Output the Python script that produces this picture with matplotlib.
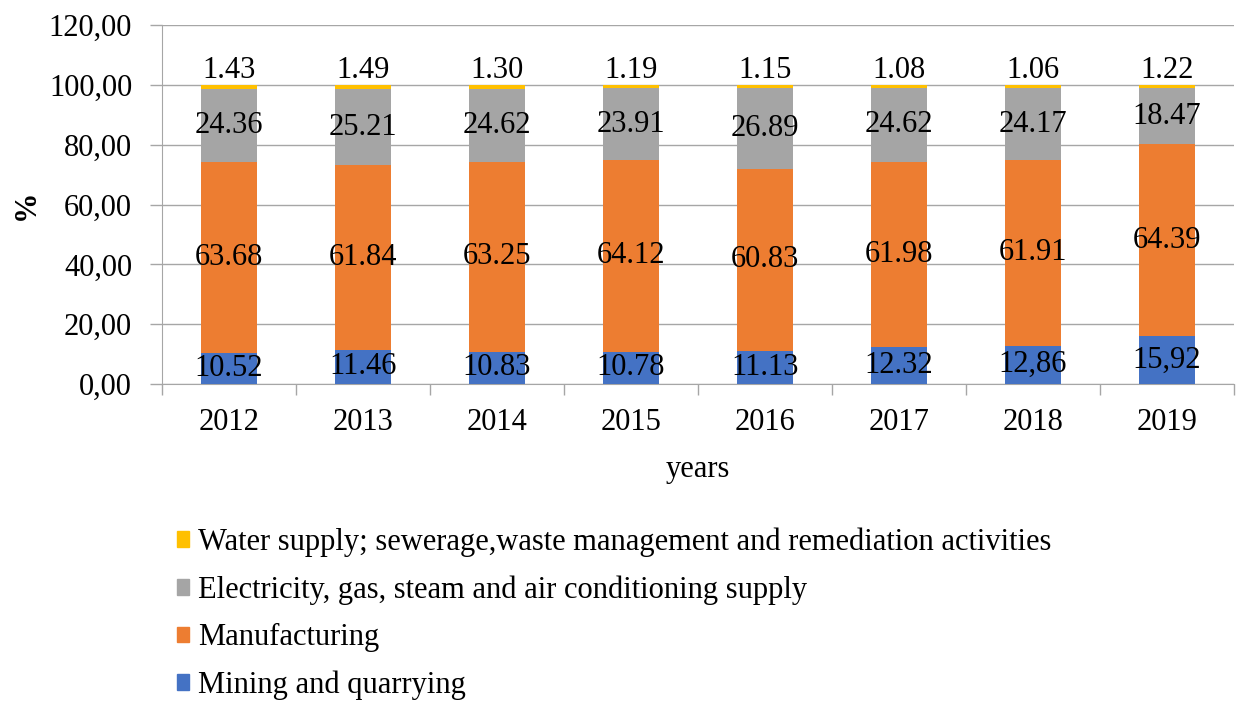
import numpy as np
import matplotlib
matplotlib.use('Agg')
import matplotlib.pyplot as plt
from matplotlib.patches import Patch

years = ['2012', '2013', '2014', '2015', '2016', '2017', '2018', '2019']
mining = [10.52, 11.46, 10.83, 10.78, 11.13, 12.32, 12.86, 15.92]
manufacturing = [63.68, 61.84, 63.25, 64.12, 60.83, 61.98, 61.91, 64.39]
electricity = [24.36, 25.21, 24.62, 23.91, 26.89, 24.62, 24.17, 18.47]
water = [1.43, 1.49, 1.30, 1.19, 1.15, 1.08, 1.06, 1.22]

mining_lbl = ['10.52', '11.46', '10.83', '10.78', '11.13', '12.32', '12,86', '15,92']
manuf_lbl = ['63.68', '61.84', '63.25', '64.12', '60.83', '61.98', '61.91', '64.39']
elec_lbl = ['24.36', '25.21', '24.62', '23.91', '26.89', '24.62', '24.17', '18.47']
water_lbl = ['1.43', '1.49', '1.30', '1.19', '1.15', '1.08', '1.06', '1.22']

names = ['Mining and quarrying', 'Manufacturing',
         'Electricity, gas, steam and air conditioning supply',
         'Water supply; sewerage,waste management and remediation activities']
colors = ['#4472C4', '#ED7D31', '#A5A5A5', '#FFC000']

plt.rcParams['font.family'] = 'serif'
plt.rcParams['font.serif'] = ['Liberation Serif', 'DejaVu Serif']
FS = 22

fig = plt.figure(figsize=(12.36, 7.04), dpi=100)
ax = fig.add_axes([162 / 1236, 1 - 384 / 704, 1072 / 1236, 359 / 704])

x = np.arange(len(years))
w = 0.42
bottom = np.zeros(len(years))
series = [mining, manufacturing, electricity, water]
labels = [mining_lbl, manuf_lbl, elec_lbl, water_lbl]
for vals, lbls, c in zip(series, labels, colors):
    bars = ax.bar(x, vals, w, bottom=bottom, color=c, zorder=3)
    if lbls is water_lbl:
        ax.bar_label(bars, labels=lbls, label_type='edge', padding=0,
                     fontsize=FS, color='black')
    else:
        ax.bar_label(bars, labels=lbls, label_type='center',
                     fontsize=FS, color='black')
    bottom += np.array(vals)

ax.set_xlim(-0.5, len(years) - 0.5)
ax.set_ylim(0, 120)
ax.set_yticks(np.arange(0, 121, 20))
ax.set_yticklabels([f'{v:.2f}'.replace('.', ',') for v in np.arange(0, 121, 20)],
                   fontsize=FS)
ax.set_xticks(x)
ax.set_xticklabels(years, fontsize=FS)
ax.set_xticks(np.arange(-0.5, len(years)), minor=True)
ax.tick_params(axis='x', which='major', length=0, pad=17)
ax.tick_params(axis='x', which='minor', length=8, color='#a6a6a6', width=1)
ax.tick_params(axis='y', length=8.5, color='#a6a6a6', width=1, pad=13)
ax.grid(axis='y', color='#a6a6a6', linewidth=1, zorder=0)
for s in ['top', 'right']:
    ax.spines[s].set_visible(False)
for s in ['left', 'bottom']:
    ax.spines[s].set_color('#a6a6a6')

ax.set_ylabel('%', fontsize=FS, fontweight='bold', labelpad=6)
ax.set_xlabel('years', fontsize=FS, labelpad=13)

handles = [Patch(color=c) for c in colors][::-1]
fig.legend(handles, names[::-1], loc='upper left',
           bbox_to_anchor=(149 / 1236, 1 - 500 / 704), frameon=False,
           fontsize=FS, handlelength=0.4, handleheight=0.4,
           handletextpad=0.3, labelspacing=0.6)

fig.savefig('out.png', dpi=100)
